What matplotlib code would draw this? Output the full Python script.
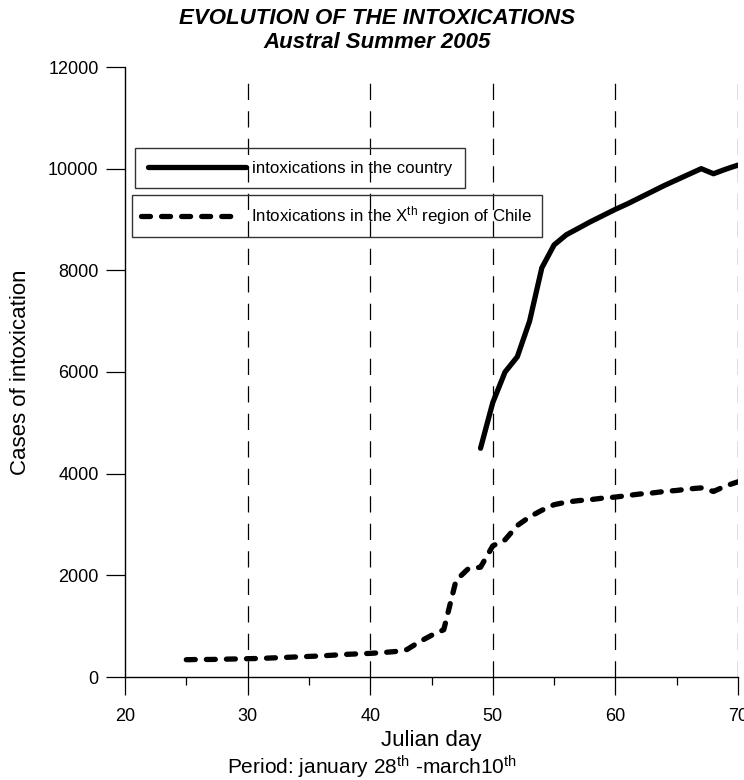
import matplotlib
matplotlib.use("Agg")
import matplotlib.pyplot as plt
from matplotlib.ticker import MultipleLocator

plt.rcParams['font.family'] = ['Liberation Sans', 'DejaVu Sans']
plt.rcParams['mathtext.fontset'] = 'custom'
plt.rcParams['mathtext.rm'] = 'Liberation Sans'
plt.rcParams['mathtext.it'] = 'Liberation Sans:italic'

# ---- data ----
country_days = [49, 50, 51, 52, 53, 54, 55, 56, 57, 58, 59, 60, 61, 62, 63,
                64, 65, 66, 67, 68, 69, 70]
country_cases = [4500, 5400, 6000, 6300, 7000, 8050, 8500, 8700, 8830, 8960,
                 9080, 9200, 9310, 9430, 9550, 9670, 9780, 9890, 10000, 9900,
                 9990, 10070]

region_days = list(range(25, 71))
region_cases = [340, 345, 345, 350, 355, 360, 365, 375, 385, 395,
                405, 415, 430, 445, 455, 465, 480, 500, 540, 690,
                820, 930, 1900, 2130, 2160, 2580, 2700, 2980, 3150, 3280,
                3390, 3440, 3470, 3490, 3520, 3540, 3570, 3600, 3620, 3650,
                3670, 3700, 3720, 3650, 3760, 3840]

grid_days = [30, 40, 50, 60, 70]
x_major = [20, 30, 40, 50, 60, 70]
y_major = [0, 2000, 4000, 6000, 8000, 10000, 12000]

label_country = "intoxications in the country"
label_region = r"Intoxications in the X$^{\mathrm{th}}$ region of Chile"

W, H = 744, 780
fig = plt.figure(figsize=(W / 100, H / 100), dpi=100)
ax = fig.add_axes([125 / W, 1 - 677 / H, (738 - 125) / W, (677 - 67) / H])

for d in grid_days:
    ax.axvline(d, ymax=0.985, color='black', lw=0.9, ls=(0, (13, 9)), zorder=1)

l1, = ax.plot(country_days, country_cases, color='black', lw=3.8,
              solid_capstyle='round', solid_joinstyle='round', zorder=3)
l2, = ax.plot(region_days, region_cases, color='black', lw=3.8,
              ls=(0, (1.7, 2.1)), dash_capstyle='round', zorder=3)

ax.set_xlim(20, 70)
ax.set_ylim(0, 12000)
ax.set_xticks(x_major)
ax.xaxis.set_minor_locator(MultipleLocator(5))
ax.set_yticks(y_major)
for s in ['top', 'right']:
    ax.spines[s].set_visible(False)
for s in ['left', 'bottom']:
    ax.spines[s].set_linewidth(1.0)
ax.tick_params(axis='y', which='major', direction='out', length=14, width=0.9,
               labelsize=13, pad=5)
ax.tick_params(axis='x', which='major', direction='out', length=13, width=0.9,
               labelsize=13, pad=9)
ax.tick_params(axis='x', which='minor', direction='out', length=6, width=0.9)

ax.set_ylabel("Cases of intoxication", fontsize=16, labelpad=12)
ax.set_xlabel("Julian day", fontsize=16, labelpad=4)

fig.text(0.5, 1 - 767 / H,
         r"Period: january 28$^{\mathrm{th}}$ -march10$^{\mathrm{th}}$",
         ha='center', va='center', fontsize=15)

fig.text(377 / W, 1 - 18 / H, "EVOLUTION OF THE INTOXICATIONS", ha='center',
         va='center', fontsize=16, fontweight='bold', fontstyle='italic')
fig.text(377 / W, 1 - 42 / H, "Austral Summer 2005", ha='center',
         va='center', fontsize=16, fontweight='bold', fontstyle='italic')

common = dict(loc='upper left', fancybox=False, facecolor='none',
              edgecolor='#333333', fontsize=12.2, borderaxespad=0)
leg1 = ax.legend([l1], [label_country], borderpad=0.75, handlelength=5.8,
                 handletextpad=0.35,
                 bbox_to_anchor=(135 / W, 1 - 148 / H),
                 bbox_transform=fig.transFigure, **common)
ax.add_artist(leg1)
leg2 = ax.legend([l2], [label_region], borderpad=0.55, handlelength=5.9,
                 handletextpad=0.6,
                 bbox_to_anchor=(132 / W, 1 - 195 / H),
                 bbox_transform=fig.transFigure, **common)
leg1._legend_box.align = 'left'
for lg in (leg1, leg2):
    fr = lg.get_frame()
    fr.set_linewidth(1.0)
    fr.set_alpha(None)
    fr.set_facecolor('none')
    fr.set_edgecolor('#333333')

fig.savefig("out.png", dpi=100)
